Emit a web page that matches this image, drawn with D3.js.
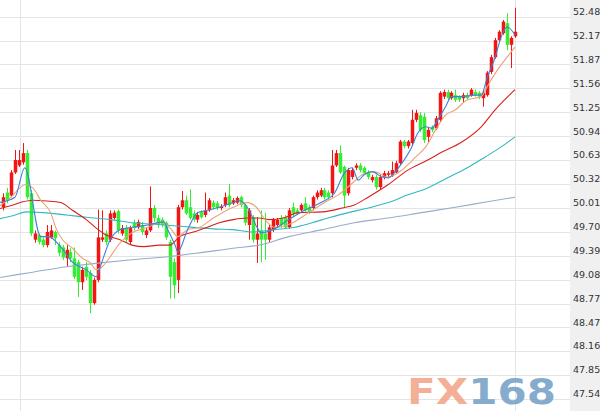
<!DOCTYPE html>
<html>
<head>
<meta charset="utf-8">
<script src="https://cdn.jsdelivr.net/npm/d3@7"></script>
<style>
html, body { margin: 0; padding: 0; background: #fff; }
svg { display: block; }
</style>
</head>
<body>
<div id="chart"></div>
<script>
// candle data, one entry per bar
const opens = [50.02,50.21,50.17,50.47,50.56,50.60,50.72,50.20,49.60,49.66,
  49.60,49.53,49.63,49.70,49.53,49.50,49.36,49.44,49.36,49.31,
  49.05,49.25,49.17,48.78,49.08,49.60,49.68,49.60,49.88,49.97,
  49.68,49.75,49.57,49.82,49.76,49.79,49.66,49.72,50.01,49.88,
  49.86,49.82,49.57,49.31,49.08,50.02,50.11,50.02,49.94,49.86,
  49.96,49.92,49.98,50.08,50.07,50.01,50.05,50.17,50.07,50.08,
  50.15,50.05,49.79,49.89,49.60,49.72,49.68,49.60,49.73,49.79,
  49.88,49.89,49.76,50.02,49.98,49.98,50.07,50.02,50.01,50.15,
  50.17,50.24,50.21,50.20,50.56,50.72,50.54,50.20,50.41,50.53,
  50.56,50.53,50.47,50.37,50.41,50.28,50.41,50.44,50.44,50.47,
  50.59,50.87,50.81,50.85,51.15,51.21,51.19,50.93,51.06,51.04,
  51.15,51.45,51.51,51.43,51.47,51.45,51.43,51.47,51.47,51.51,
  51.50,51.43,51.47,51.77,51.96,52.18,52.27,52.40,52.12,52.23];
const highs = [50.20,50.27,50.50,50.76,50.76,50.85,50.76,50.24,49.72,49.68,
  49.63,49.79,49.79,49.72,49.57,49.53,49.53,49.49,49.50,49.34,
  49.25,49.31,49.21,49.11,49.99,49.98,49.72,49.98,49.98,49.99,
  49.79,49.79,49.78,49.86,49.86,49.83,49.75,50.29,50.05,49.92,
  49.89,49.84,49.60,49.36,50.05,50.23,50.17,50.25,49.98,49.96,
  49.98,50.21,50.14,50.11,50.10,50.06,50.21,50.32,50.14,50.16,
  50.17,50.07,50.01,49.92,49.89,49.98,49.95,49.79,49.88,49.88,
  49.92,49.92,50.01,50.08,50.01,50.07,50.15,50.05,50.17,50.24,
  50.27,50.27,50.24,50.76,50.76,50.82,50.56,50.53,50.53,50.59,
  50.59,50.55,50.50,50.44,50.44,50.44,50.49,50.49,50.61,50.62,
  50.89,50.89,50.89,51.28,51.28,51.25,51.24,51.06,51.08,51.20,
  51.52,51.54,51.54,51.52,51.54,51.47,51.50,51.50,51.56,51.54,
  51.52,51.54,51.78,51.99,52.21,52.31,52.44,52.53,52.23,52.60];
const lows = [49.98,50.07,50.15,50.45,50.54,50.57,50.12,49.65,49.56,49.54,
  49.50,49.50,49.61,49.53,49.39,49.34,49.25,49.31,49.09,48.86,
  48.95,49.08,48.65,48.76,49.05,49.57,49.53,49.57,49.86,49.68,
  49.65,49.56,49.54,49.72,49.74,49.66,49.62,49.70,49.83,49.75,
  49.76,49.60,48.84,48.84,48.91,49.99,49.92,49.86,49.83,49.82,
  49.87,49.89,49.96,49.99,49.98,49.98,50.02,50.02,50.05,50.06,
  50.02,49.78,49.60,49.56,49.30,49.31,49.34,49.56,49.70,49.76,
  49.75,49.74,49.74,49.89,49.92,49.96,49.96,49.93,49.98,50.12,
  50.15,50.12,50.12,50.15,50.54,50.45,50.02,50.17,50.38,50.50,
  50.47,50.44,50.38,50.34,50.25,50.25,50.38,50.41,50.41,50.45,
  50.56,50.78,50.78,50.82,51.12,50.99,50.85,50.85,50.99,51.02,
  51.12,51.42,51.41,51.41,51.38,51.38,51.37,51.41,51.45,51.45,
  51.42,51.32,51.45,51.74,51.94,52.16,52.25,52.05,51.82,52.21];
const closes = [50.15,50.11,50.47,50.63,50.63,50.72,50.15,49.68,49.68,49.57,
  49.53,49.70,49.72,49.62,49.43,49.37,49.47,49.36,49.12,49.05,
  49.21,49.12,48.78,49.08,49.63,49.63,49.57,49.94,49.95,49.72,
  49.75,49.60,49.75,49.75,49.83,49.70,49.72,50.01,49.88,49.79,
  49.79,49.63,49.12,49.01,50.02,50.11,49.94,49.88,49.86,49.92,
  49.89,49.98,50.11,50.02,50.01,50.03,50.15,50.05,50.11,50.14,
  50.05,49.82,49.98,49.60,49.68,49.60,49.60,49.76,49.86,49.86,
  49.79,49.76,49.98,49.94,49.94,50.05,49.98,49.96,50.15,50.21,
  50.24,50.15,50.15,50.56,50.72,50.47,50.17,50.50,50.50,50.56,
  50.50,50.46,50.41,50.41,50.28,50.41,50.46,50.46,50.50,50.59,
  50.87,50.81,50.87,51.15,51.24,51.02,50.89,51.02,51.02,51.17,
  51.50,51.51,51.43,51.50,51.41,51.41,51.47,51.43,51.54,51.47,
  51.45,51.50,51.76,51.96,52.18,52.29,52.42,52.12,52.21,52.29];

// moving averages, [bar index, price]
const ma5 = [[-1,50.08],[3,50.15],[5.5,50.53],[9.5,49.64],[11.5,49.64],[14.5,49.51],[17.5,49.31],[21,49.21],[23.5,49.12],[24.5,49.25],[27,49.60],[29.5,49.73],[32.5,49.76],[36.5,49.79],[40.5,49.83],[41.5,49.73],[43.5,49.51],[44,49.44],[46.5,49.73],[49,49.95],[51.5,49.98],[54.5,50.02],[58,50.08],[59.5,50.11],[62,49.98],[64,49.76],[65,49.69],[68,49.73],[72,49.86],[76,49.98],[80.5,50.09],[83.5,50.20],[86,50.46],[88,50.53],[89.5,50.37],[91,50.44],[93,50.48],[95.5,50.41],[97,50.40],[98.5,50.46],[100.5,50.59],[103,50.80],[104.5,50.98],[106.5,51.06],[108,51.04],[109.5,51.15],[111.5,51.32],[113,51.45],[115.5,51.45],[119,51.47],[120.5,51.47],[122,51.70],[124,51.96],[125.5,52.22],[127,52.35],[129,52.25]];
const ma10 = [[-1,50.03],[2,50.15],[4.5,50.28],[5.5,50.31],[7.5,50.27],[9.5,50.11],[12,49.95],[13.5,49.73],[15,49.60],[17.5,49.49],[20,49.36],[22,49.30],[23.5,49.21],[25,49.25],[27,49.38],[29.5,49.56],[32.5,49.69],[36.5,49.76],[39.5,49.82],[42,49.76],[44,49.64],[46.5,49.73],[49.5,49.76],[53,49.88],[58,50.02],[61.5,50.08],[64,50.01],[66,49.86],[68.5,49.76],[73,49.82],[77,49.95],[82,50.11],[84.5,50.18],[88,50.33],[90.5,50.44],[93.5,50.48],[97,50.41],[100.5,50.50],[104,50.67],[106.5,50.80],[109,51.02],[111.5,51.21],[114,51.28],[117,51.41],[120.5,51.45],[122,51.58],[124.5,51.79],[127,51.96],[129,52.09]];
const ma20 = [[-1,50.00],[2.5,50.05],[5,50.09],[7.5,50.11],[11,50.10],[14.5,50.08],[17.5,49.98],[21,49.86],[23.5,49.75],[26,49.66],[29.5,49.60],[32.5,49.53],[35.5,49.51],[39.5,49.53],[42,49.53],[44.5,49.64],[48,49.70],[51.5,49.76],[54.5,49.82],[58,49.86],[61.5,49.88],[64.5,49.88],[67,49.86],[70.5,49.88],[74.5,49.95],[80.5,49.96],[85.5,50.01],[88.5,50.05],[92,50.15],[97,50.31],[102,50.50],[107,50.63],[110.5,50.73],[115.5,50.86],[120.5,51.06],[124,51.28],[129,51.54]];
const ma30 = [[-1,49.87],[2.5,49.91],[6,49.96],[10,49.95],[16,49.92],[21,49.89],[27,49.86],[32.5,49.82],[38,49.80],[43,49.78],[48,49.76],[53,49.74],[58,49.73],[63,49.70],[68.5,49.73],[73.5,49.76],[80.5,49.86],[87,49.95],[92,50.01],[97,50.08],[102,50.18],[107,50.27],[112,50.40],[117,50.53],[121.5,50.67],[125.5,50.80],[129,50.93]];
const ma60 = [[-1,49.11],[7.5,49.18],[16,49.25],[24.5,49.30],[32.5,49.34],[41.5,49.38],[49.5,49.43],[58,49.49],[64.5,49.53],[72,49.64],[80.5,49.73],[88.5,49.82],[97,49.88],[105.5,49.95],[114,50.02],[122,50.09],[129,50.15]];

const tickLabels = ["52.48","52.17","51.87","51.56","51.25","50.94","50.63","50.32","50.01",
  "49.70","49.39","49.08","48.77","48.47","48.16","47.85","47.54"];
const dayBreaks = [4.3, 129];

const W = 600, H = 411, plotRight = 570;
const svg = d3.select("#chart").append("svg").attr("width", W).attr("height", H);

const x = d3.scaleLinear().domain([0, opens.length - 1]).range([3, 515]);
const y = d3.scaleLinear().domain([47.54, 52.48]).range([399, 17]);

// price axis panel
svg.append("rect")
    .attr("x", plotRight).attr("y", 0)
    .attr("width", W - plotRight).attr("height", H)
    .attr("fill", "#f0f0f0");

// grid
svg.append("g").selectAll("line").data(tickLabels).join("line")
    .attr("x1", 0).attr("x2", plotRight)
    .attr("y1", d => Math.round(y(+d)) + 0.5)
    .attr("y2", d => Math.round(y(+d)) + 0.5)
    .attr("stroke", "#e4e4e4");
svg.append("g").selectAll("line").data(dayBreaks).join("line")
    .attr("x1", d => Math.round(x(d)) + 0.5).attr("x2", d => Math.round(x(d)) + 0.5)
    .attr("y1", 0).attr("y2", H)
    .attr("stroke", "#e4e4e4");

// candles
const bars = d3.range(opens.length).map(i => ({i, o: opens[i], h: highs[i], l: lows[i], c: closes[i]}));
const up = "#f41414", down = "#33ee33";
const cg = svg.append("g");
cg.selectAll("line").data(bars).join("line")
    .attr("x1", d => Math.round(x(d.i)) + 0.5)
    .attr("x2", d => Math.round(x(d.i)) + 0.5)
    .attr("y1", d => y(d.h))
    .attr("y2", d => y(d.l))
    .attr("stroke", d => d.c >= d.o ? up : down);
cg.selectAll("rect").data(bars).join("rect")
    .attr("x", d => Math.round(x(d.i)) - 1.25)
    .attr("width", 3.5)
    .attr("y", d => y(Math.max(d.o, d.c)))
    .attr("height", d => Math.max(1.5, y(Math.min(d.o, d.c)) - y(Math.max(d.o, d.c))))
    .attr("fill", d => d.c >= d.o ? up : down);

// moving average lines
const line = d3.line().x(d => x(d[0])).y(d => y(d[1])).curve(d3.curveMonotoneX);
const maSeries = [
  {data: ma60, color: "#9aaccb"},
  {data: ma30, color: "#2fb9c2"},
  {data: ma20, color: "#d8201c"},
  {data: ma10, color: "#eba277"},
  {data: ma5, color: "#3f80dc"}
];
svg.append("g").selectAll("path").data(maSeries).join("path")
    .attr("d", d => line(d.data))
    .attr("fill", "none")
    .attr("stroke", d => d.color)
    .attr("stroke-width", 1.1);

// watermark
const wm = svg.append("text")
    .attr("x", 407).attr("y", 404)
    .attr("font-family", "DejaVu Sans")
    .attr("font-weight", "bold")
    .attr("font-size", 36)
    .attr("textLength", 149)
    .attr("lengthAdjust", "spacingAndGlyphs");
wm.append("tspan").attr("fill", "#f2a283").attr("fill-opacity", 0.85).text("FX");
wm.append("tspan").attr("fill", "#6f9dc4").attr("fill-opacity", 0.85).text("168");

// price labels
const axis = d3.axisRight(y)
    .tickValues(tickLabels.map(Number))
    .tickFormat((d, i) => tickLabels[i])
    .tickSize(0).tickPadding(0);
const ag = svg.append("g").attr("transform", "translate(573,0)").call(axis);
ag.select(".domain").remove();
ag.selectAll("text")
    .attr("dy", "-0.22em")
    .attr("font-family", "DejaVu Sans")
    .attr("font-size", 9.5)
    .attr("fill", "#333");
</script>
</body>
</html>
